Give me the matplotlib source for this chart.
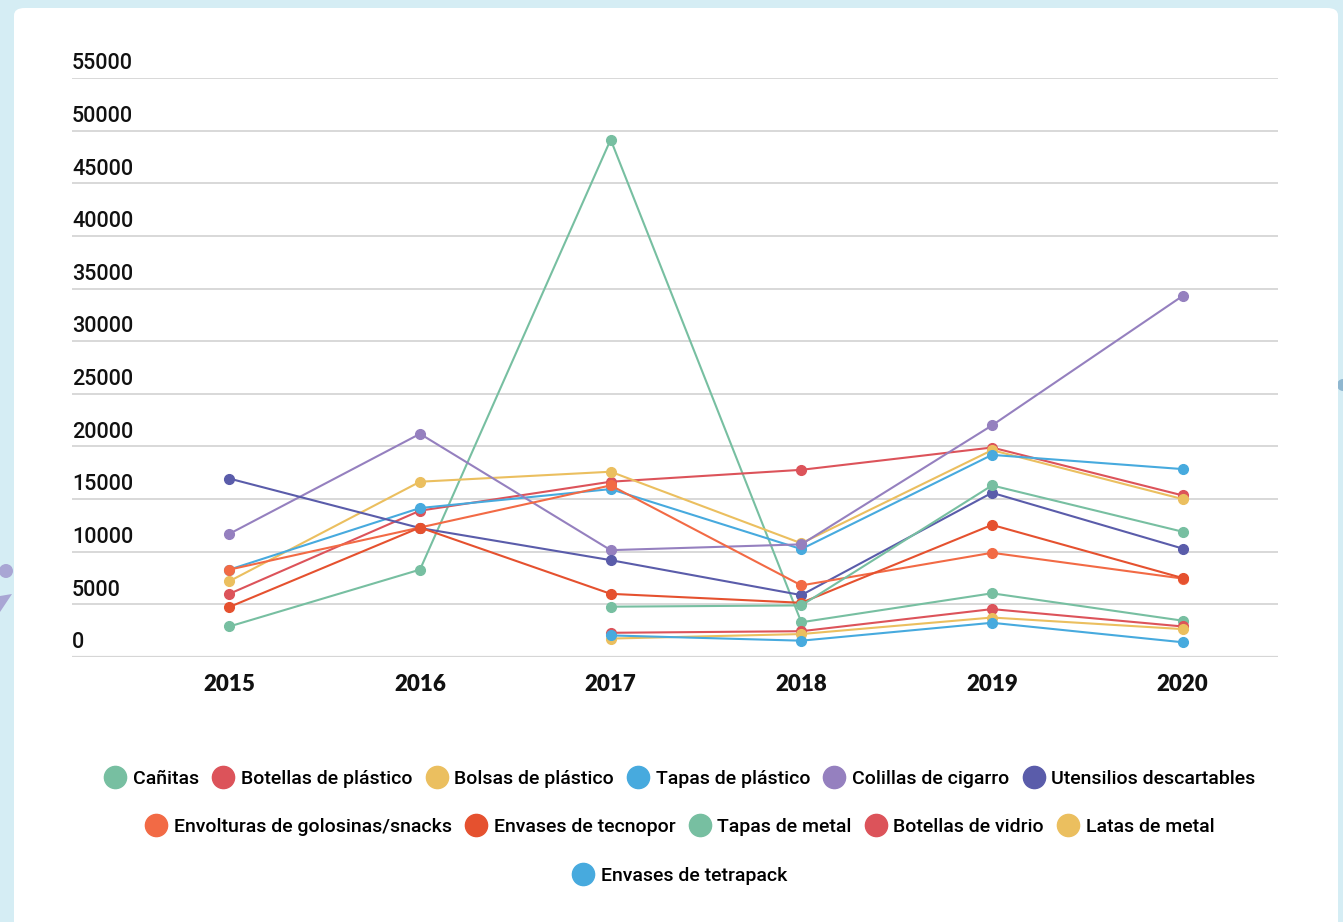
import matplotlib.pyplot as plt
import matplotlib.patches as mpatches
from matplotlib.lines import Line2D
from matplotlib import font_manager
import numpy as np

years = ["2015", "2016", "2017", "2018", "2019", "2020"]

# None = sin dato ese año
canitas = [2900, 8300, 49150, 3300, 6050, 3450]
botellas_plastico = [6000, 13900, 16650, 17780, 19900, 15350]
bolsas_plastico = [7200, 16650, 17600, 10800, 19650, 15000]
tapas_plastico = [8300, 14150, 15950, 10250, 19200, 17850]
colillas = [11700, 21200, 10150, 10700, 22000, 34300]
utensilios = [16950, 12250, 9200, 5880, 15600, 10300]
envolturas = [8300, 12300, 16300, 6800, 9900, 7450]
tecnopor = [4750, 12300, 6000, 5150, 12550, 7500]
tapas_metal = [None, None, 4780, 4900, 16300, 11900]
botellas_vidrio = [None, None, 2300, 2450, 4550, 2900]
latas_metal = [None, None, 1750, 2180, 3750, 2650]
tetrapack = [None, None, 2050, 1550, 3250, 1400]

labels = ["Cañitas", "Botellas de plástico", "Bolsas de plástico", "Tapas de plástico",
          "Colillas de cigarro", "Utensilios descartables",
          "Envolturas de golosinas/snacks", "Envases de tecnopor", "Tapas de metal",
          "Botellas de vidrio", "Latas de metal", "Envases de tetrapack"]
series = [canitas, botellas_plastico, bolsas_plastico, tapas_plastico, colillas, utensilios,
          envolturas, tecnopor, tapas_metal, botellas_vidrio, latas_metal, tetrapack]
colors = ["#77bfa1", "#dc535a", "#ebbf5f", "#47aade", "#9580bf", "#5a5caa",
          "#f26a45", "#e5512f", "#77bfa1", "#dc535a", "#ebbf5f", "#47aade"]

yticks = [0, 5000, 10000, 15000, 20000, 25000, 30000, 35000, 40000, 45000, 50000, 55000]

installed = {f.name for f in font_manager.fontManager.ttflist}
narrow = "Liberation Sans Narrow" if "Liberation Sans Narrow" in installed else "Roboto"
fsize = 15.5 if narrow == "Liberation Sans Narrow" else 14

W, H = 1343, 922
fig = plt.figure(figsize=(W / 100, H / 100), dpi=100)
fig.patch.set_facecolor("#d5edf4")

# panel blanco
panel = mpatches.FancyBboxPatch((14 / W, -0.05), (1338 - 14) / W, (H - 8) / H + 0.05,
                                boxstyle="round,pad=0,rounding_size=0.008",
                                transform=fig.transFigure, facecolor="white",
                                edgecolor="none", zorder=-5)
fig.patches.append(panel)
# adornos del fondo
fig.patches.append(mpatches.Ellipse((6 / W, 1 - 571 / H), 14 / W, 14 / H, transform=fig.transFigure,
                                    facecolor="#a9a6d4", edgecolor="none", zorder=-6))
fig.patches.append(mpatches.Polygon([(0, 1 - 596 / H), (12 / W, 1 - 594 / H), (0, 1 - 612 / H)],
                                    transform=fig.transFigure, facecolor="#a9a6d4",
                                    edgecolor="none", zorder=-6))
fig.patches.append(mpatches.Ellipse((1343 / W, 1 - 385 / H), 12 / W, 12 / H, transform=fig.transFigure,
                                    facecolor="#8fb7d0", edgecolor="none", zorder=-6))

# ejes: gridlines de x=72 a x=1278, área de datos 134..1278
left, right = 72, 1278
top, bottom = 78, 657
ax = fig.add_axes([left / W, 1 - bottom / H, (right - left) / W, (bottom - top) / H])
band = (right - 134) / 6
ax.set_xlim(-0.5 - (134 - left) / band, 5.5)
ax.set_ylim(0, 55000)
ax.set_facecolor("none")
for s in ax.spines.values():
    s.set_visible(False)
ax.set_yticks([])
ax.set_xticks([])

for v in yticks:
    ax.axhline(v, color="#d6d6d6", lw=1.3 if v else 1.6, zorder=1)
    ax.text(0, v + 350, str(v), transform=ax.get_yaxis_transform(), ha="left", va="bottom",
            fontsize=fsize + 1.5, family=narrow, fontweight="medium", color="#111111")

x = np.arange(len(years))
for yr, xi in zip(years, x):
    ax.text(xi, -2600, yr, ha="center", va="center", fontsize=16, fontweight="heavy",
            family="Lato", color="#111111", clip_on=False)

for vals, c in zip(series, colors):
    xs = [xi for xi, v in zip(x, vals) if v is not None]
    ys = [v for v in vals if v is not None]
    ax.plot(xs, ys, color=c, lw=1.5, marker="o", ms=7, mec=c, zorder=3)

handles = [Line2D([], [], ls="none", marker="o", ms=16, color=c) for c in colors]
rows = [(0, 6, 779), (6, 11, 827), (11, 12, 876)]
for a, b, yp in rows:
    leg = fig.legend(handles[a:b], labels[a:b], ncol=b - a, loc="center",
                     bbox_to_anchor=(680 / W, 1 - yp / H), frameon=False,
                     prop={"family": narrow, "size": fsize, "weight": "medium"},
                     handletextpad=0.35, columnspacing=0.7, handlelength=1.1, borderpad=0)

fig.savefig("out.png", dpi=100, facecolor=fig.get_facecolor())
